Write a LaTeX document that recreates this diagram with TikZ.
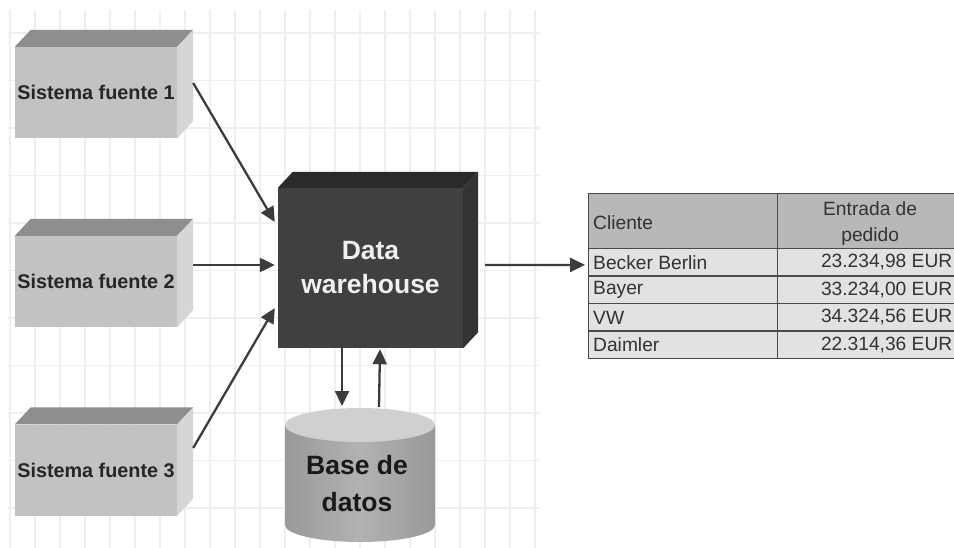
\documentclass[tikz,border=0pt]{standalone}
\usepackage{fontspec}
\setmainfont{Liberation Sans}
\usetikzlibrary{calc,arrows.meta}

\definecolor{gridcol}{HTML}{EFEFEF}
\definecolor{srcfront}{HTML}{C2C2C2}
\definecolor{srctop}{HTML}{8E8E8E}
\definecolor{srcside}{HTML}{D6D6D6}
\definecolor{dwfront}{HTML}{404040}
\definecolor{dwtop}{HTML}{2A2A2A}
\definecolor{dwside}{HTML}{333333}
\definecolor{arrcol}{HTML}{3C3C3C}
\definecolor{cyltop}{HTML}{D0D0D0}
\definecolor{cylmid}{HTML}{B2B2B2}
\definecolor{cyledge}{HTML}{999999}
\definecolor{hdrfill}{HTML}{B8B8B8}
\definecolor{rowfill}{HTML}{E2E2E2}
\definecolor{tabline}{HTML}{4A4A4A}
\definecolor{tabtext}{HTML}{333333}

% top and side faces of a box drawn behind its front node
\newcommand\cubefaces[5]{%
  \fill[#4] (#1.north west) -- ++(#2,#3) -- ($(#1.north east)+(#2,#3)$) -- (#1.north east) -- cycle;
  \fill[#5] (#1.north east) -- ++(#2,#3) -- ($(#1.south east)+(#2,#3)$) -- (#1.south east) -- cycle;
}

\begin{document}
\begin{tikzpicture}[x=1pt,y=-1pt,
  gridline/.style={draw=gridcol, line width=1.5pt},
  srcbox/.style={fill=srcfront, minimum width=162pt, minimum height=91pt, inner sep=0pt,
    font=\bfseries\fontsize{19.8}{23}\selectfont, text=black!85},
  dwbox/.style={fill=dwfront, minimum width=185pt, minimum height=160pt, inner sep=0pt,
    align=center, font=\bfseries\fontsize{26.5}{34}\selectfont, text=white!94!black},
  arr/.style={draw=arrcol, line width=2.3pt, -{Triangle[length=15pt,width=14pt]}},
  cell/.style={draw=tabline, line width=1.3pt, inner sep=0pt, anchor=north west},
  tabtxt/.style={font=\fontsize{19.2}{24}\selectfont, text=tabtext, inner sep=0pt}
]
\useasboundingbox (0,0) rectangle (954,548);
\fill[white] (0,0) rectangle (954,548);

\begin{scope}
\clip (0,0) rectangle (954,548);

% background grid
\foreach \k in {0,...,21} \draw[gridline] (10+25*\k,10) -- (10+25*\k,548);
\foreach \k in {0,...,10} \draw[gridline] (8,33+47.5*\k) -- (540,33+47.5*\k);

% source systems
\node[srcbox] (src1) at (96,92.5) {Sistema fuente 1};
\node[srcbox] (src2) at (96,281.5) {Sistema fuente 2};
\node[srcbox] (src3) at (96,470) {Sistema fuente 3};
\cubefaces{src1}{16}{-17}{srctop}{srcside}
\cubefaces{src2}{16}{-17}{srctop}{srcside}
\cubefaces{src3}{16}{-17}{srctop}{srcside}

% data warehouse
\node[dwbox] (dw) at (370.5,268) {Data\\warehouse};
\cubefaces{dw}{15}{-16}{dwtop}{dwside}

% database cylinder
\coordinate (dbtop) at (360,425);
\shade[left color=cyledge, right color=cyledge, middle color=cylmid]
  (285,425) -- (285,525) arc[start angle=180, end angle=0, x radius=75, y radius=17] -- (435,425) -- cycle;
\fill[cyltop] (dbtop) ellipse[x radius=75, y radius=17];
\node[align=center, font=\bfseries\fontsize{26.5}{37}\selectfont, text=black!90] (db) at (357,484) {Base de\\datos};

% connectors
\draw[arr] ($(src1.east)+(16,-9.5)$) -- ($(dw.west)+(-3,-46)$);
\draw[arr] ($(src2.east)+(16,-16.5)$) -- ($(dw.west)+(-3,-3)$);
\draw[arr] ($(src3.east)+(16,-22)$) -- ($(dw.west)+(-3,40)$);
\draw[arr] ($(dw.south)+(-28.5,0)$) -- ($(dbtop)+(-18,-19)$);
\draw[arr] ($(dbtop)+(19,-18)$) -- ($(dw.south)+(9.5,1)$);

% result table
\node[cell, fill=hdrfill, minimum width=189pt, minimum height=55pt] (h1) at (588,193) {};
\node[cell, fill=hdrfill, minimum width=185pt, minimum height=55pt] (h2) at (777,193) {};
\foreach \r/\y in {1/248,2/275.5,3/303,4/330.5} {
  \node[cell, fill=rowfill, minimum width=189pt, minimum height=27.5pt] (c\r1) at (588,\y) {};
  \node[cell, fill=rowfill, minimum width=185pt, minimum height=27.5pt] (c\r2) at (777,\y) {};
}
\draw[arr] ($(dw.east)+(22,-3)$) -- ($(c11.west)+(-3,2.5)$);

\node[tabtxt, anchor=west] (th1) at ($(h1.west)+(5,1.5)$) {Cliente};
\node[tabtxt, align=center, font=\fontsize{19.2}{26}\selectfont] (th2) at ($(h2.center)+(0,2)$) {Entrada de\\pedido};
\foreach \r/\name/\val in {1/Becker Berlin/{23.234,98 EUR}, 2/Bayer/{33.234,00 EUR},
                           3/VW/{34.324,56 EUR}, 4/Daimler/{22.314,36 EUR}} {
  \node[tabtxt, anchor=west] (n\r) at ($(c\r1.west)+(5,0)$) {\name};
  \node[tabtxt, anchor=east] (v\r) at ($(c\r2.west)+(175.5,0)$) {\val};
}
\end{scope}
\end{tikzpicture}
\end{document}
